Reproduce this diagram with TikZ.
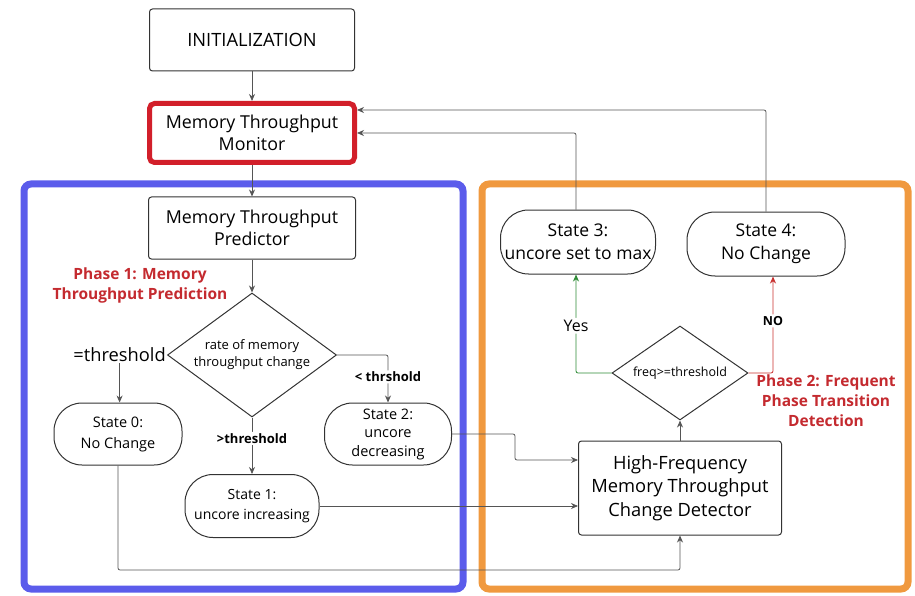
\documentclass[tikz,border=0pt]{standalone}
\usepackage{fontspec}
\setmainfont{Open Sans}
\usetikzlibrary{shapes.geometric,arrows.meta}
\definecolor{inkgray}{HTML}{333333}
\definecolor{wiregray}{HTML}{555555}
\definecolor{framblue}{HTML}{5B5CEB}
\definecolor{framorange}{HTML}{F0993F}
\definecolor{monred}{HTML}{D21F2A}
\definecolor{phasered}{HTML}{C42A2F}
\definecolor{yesgreen}{HTML}{2E8B36}
\definecolor{nored}{HTML}{C8302E}
\begin{document}
\begin{tikzpicture}[x=1pt,y=-1pt,
  box/.style={draw=inkgray, line width=1pt, rounded corners=3pt, align=center,
    inner sep=0pt, font=\fontsize{17.8}{22}\selectfont},
  state/.style={draw=inkgray, line width=1pt, rounded corners=28pt, align=center,
    inner sep=0pt, font=\fontsize{14}{20}\selectfont},
  bigstate/.style={state, font=\fontsize{17.5}{23}\selectfont},
  decision/.style={draw=inkgray, line width=1pt, diamond, inner sep=0pt, align=center},
  wire/.style={draw=wiregray, line width=0.8pt, rounded corners=2pt},
  arr/.style={wire, -{Stealth[length=7pt,width=6pt]}},
  cond/.style={font=\bfseries\fontsize{13}{15}\selectfont, fill=white, inner sep=1.5pt},
  phase/.style={text=phasered, font=\bfseries\fontsize{15.5}{20}\selectfont, align=center},
  frame/.style={line width=7pt, rounded corners=7pt}]

\useasboundingbox (0,0) rectangle (915,596);

% phase frames
\draw[frame, framblue] (24,184) rectangle (463,589);
\draw[frame, framorange] (482,184) rectangle (908,589);

% main column
\node[box, minimum width=205pt, minimum height=62pt, font=\fontsize{18.3}{22}\selectfont] (init) at (252,40) {INITIALIZATION};
\node[box, draw=monred, line width=5pt, rounded corners=5pt,
      minimum width=205pt, minimum height=59pt] (mon) at (252,133) {Memory Throughput\\Monitor};
\node[box, minimum width=207pt, minimum height=62pt] (pred) at (252,228) {Memory Throughput\\Predictor};
\node[phase] (ph1) at (140,285) {Phase 1: Memory\\Throughput Prediction};
\node[decision, aspect=1.4, minimum width=169pt, minimum height=124pt,
      font=\fontsize{13}{17}\selectfont] (rate) at (252,355)
  {rate of memory\\throughput change};

% phase 1 outcomes
\node[font=\fontsize{18.3}{20}\selectfont, inner sep=1pt, anchor=east] (eqth) at (rate.west) {=threshold};
\node[state, minimum width=128pt, minimum height=62pt, font=\fontsize{14.5}{21}\selectfont] (s0) at (118,434) {State 0:\\No Change};
\node[state, minimum width=134pt, minimum height=63pt] (s1) at (252,506) {State 1:\\uncore increasing};
\node[state, minimum width=127pt, minimum height=62pt, font=\fontsize{14.5}{18.5}\selectfont] (s2) at (388,434)
  {State 2:\\uncore\\decreasing};

% phase 2
\node[box, minimum width=203pt, minimum height=94pt, font=\fontsize{18.3}{23.5}\selectfont] (hf) at (680,488)
  {High-Frequency\\Memory Throughput\\Change Detector};
\node[decision, aspect=1.45, minimum width=136pt, minimum height=94pt,
      font=\fontsize{12.5}{15}\selectfont] (fq) at (680,373) {freq>=threshold};
\node[bigstate, minimum width=155pt, minimum height=64pt] (s3) at (578,242) {State 3:\\uncore set to max};
\node[bigstate, minimum width=158pt, minimum height=64pt] (s4) at (766,244) {State 4:\\No Change};
\node[phase] (ph2) at (826,401) {Phase 2: Frequent\\Phase Transition\\Detection};

\coordinate (lowbus) at (300,570);

% connectors
\draw[arr] (init) -- (mon);
\draw[arr] (mon) -- (pred);
\draw[arr] (pred) -- (rate);
\draw[arr] (eqth.south) -- (eqth.south |- s0.north);
\draw[arr] (rate.south) -- (s1.north) node[cond, pos=0.37] {>threshold};
\draw[arr] (rate.east) -| (s2.north) node[cond, pos=0.73] {< thrshold};
\draw[arr] (s2.east) -- ++(63,0) |- ([yshift=28pt]hf.west);
\draw[arr] (s1.east) -- (s1.east -| hf.west);
\draw[arr] (s0.south) |- (lowbus) -| (hf.south);
\draw[arr] (hf) -- (fq);
\draw[arr, draw=yesgreen, -{Stealth[length=7pt,width=6pt,fill=yesgreen]}]
  (fq.west) -| ([xshift=-2pt]s3.south)
  node[pos=0.74, fill=white, inner sep=2pt, text=black, font=\fontsize{16}{18}\selectfont] {Yes};
\draw[arr, draw=nored, -{Stealth[length=7pt,width=6pt,fill=nored]}]
  (fq.east) -| ([xshift=7pt]s4.south)
  node[pos=0.77, fill=white, inner sep=2pt, text=black, font=\bfseries\fontsize{12.5}{14}\selectfont] {NO};
\draw[arr] ([xshift=-2pt]s3.north) |- (mon.east);
\draw[arr] (s4.north) |- ([yshift=23pt]mon.east);

\end{tikzpicture}
\end{document}
